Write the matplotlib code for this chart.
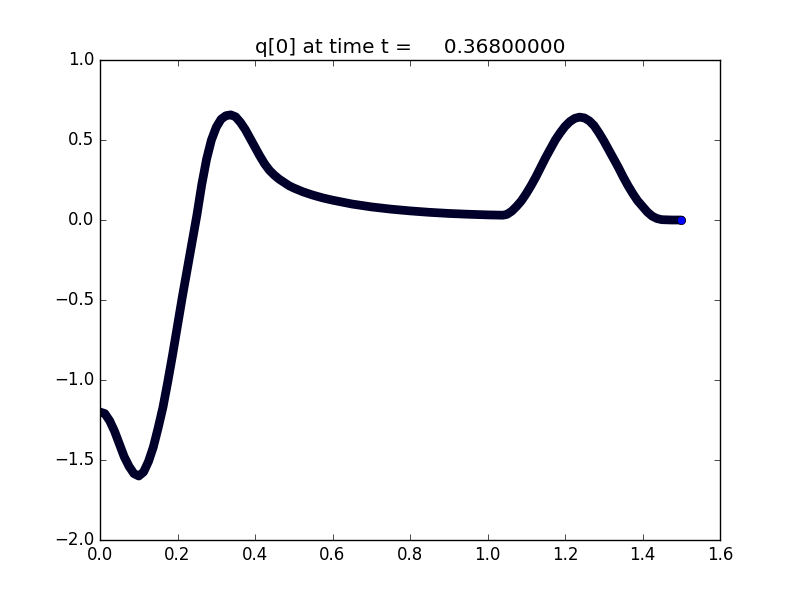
import matplotlib
matplotlib.use("Agg")
import matplotlib.pyplot as plt

plt.style.use("classic")

x_vals = [0.000, 0.0125, 0.025, 0.0375, 0.050, 0.0625, 0.075, 0.0875, 0.100, 0.1125,
          0.125, 0.1375, 0.150, 0.1625, 0.175, 0.1875, 0.200, 0.2125, 0.225, 0.2375,
          0.250, 0.2625, 0.275, 0.2875, 0.300, 0.3125, 0.325, 0.3375, 0.350, 0.3625,
          0.375, 0.3875, 0.400, 0.4125, 0.425, 0.4375, 0.450, 0.4625, 0.475, 0.4875,
          0.500, 0.525, 0.550, 0.575, 0.600, 0.650, 0.700, 0.750, 0.800, 0.850,
          0.900, 0.950, 1.000, 1.040, 1.050, 1.0625, 1.075, 1.0875, 1.100, 1.1125,
          1.125, 1.1375, 1.150, 1.1625, 1.175, 1.1875, 1.200, 1.2125, 1.225, 1.2375,
          1.250, 1.2625, 1.275, 1.2875, 1.300, 1.3125, 1.325, 1.3375, 1.350, 1.3625,
          1.375, 1.3875, 1.400, 1.4125, 1.425, 1.4375, 1.450, 1.475, 1.500]
q_vals = [-1.200, -1.210, -1.255, -1.320, -1.400, -1.480, -1.540, -1.585, -1.600, -1.575,
          -1.510, -1.420, -1.300, -1.170, -1.010, -0.840, -0.660, -0.480, -0.310, -0.140,
          0.030, 0.220, 0.380, 0.500, 0.580, 0.630, 0.652, 0.657, 0.645, 0.610,
          0.565, 0.510, 0.455, 0.400, 0.350, 0.310, 0.280, 0.255, 0.235, 0.215,
          0.200, 0.175, 0.155, 0.138, 0.124, 0.100, 0.082, 0.068, 0.057, 0.048,
          0.041, 0.036, 0.032, 0.030, 0.035, 0.055, 0.085, 0.120, 0.165, 0.215,
          0.270, 0.330, 0.390, 0.445, 0.500, 0.545, 0.585, 0.615, 0.635, 0.643,
          0.638, 0.620, 0.590, 0.545, 0.495, 0.440, 0.385, 0.330, 0.270, 0.215,
          0.165, 0.120, 0.085, 0.050, 0.024, 0.009, 0.002, 0.000, 0.000]
title_text = "q[0] at time t =     0.36800000"

fig = plt.figure(figsize=(8, 6), dpi=100)
ax = fig.add_subplot(111)
ax.plot(x_vals, q_vals, '-', color='#00002a', lw=6.3,
        solid_capstyle='round', solid_joinstyle='round')
ax.plot(x_vals[-1:], q_vals[-1:], 'o', color='b', mec='k', mew=0.5, ms=6)
ax.set_xlim(0, 1.6)
ax.set_ylim(-2, 1)
ax.set_title(title_text)
fig.savefig("out.png", dpi=100)
